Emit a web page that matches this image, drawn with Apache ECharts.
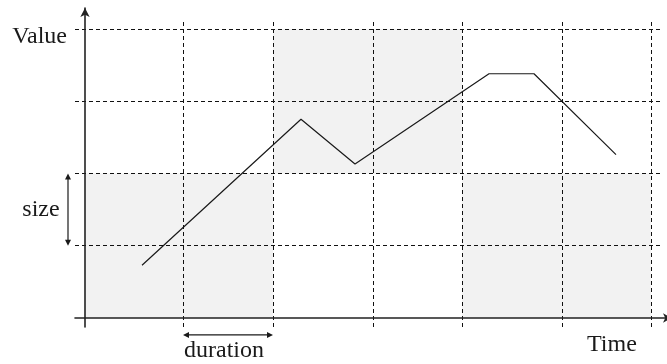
<!DOCTYPE html>
<html>
<head>
<meta charset="utf-8">
<script src="https://cdn.jsdelivr.net/npm/echarts@6/dist/echarts.min.js"></script>
<style>
html, body { margin: 0; padding: 0; background: #fff; }
#chart { width: 667px; height: 364px; }
</style>
</head>
<body>
<div id="chart"></div>
<script>
// time grid (1 unit = one small step of the axis)
var timeTicks = [9.8, 18.8, 28.8, 37.7, 47.7, 56.6];
var valueTicks = [1, 2, 3, 4];

// the curve
var pointTime = [5.7, 21.6, 27.0, 40.4, 44.9, 53.1];
var pointValue = [0.73, 2.75, 2.13, 3.38, 3.38, 2.26];

// grey blocks: [from, to] in time and value
var blockTime = [[0, 18.8], [18.8, 37.7], [37.7, 56.6]];
var blockValue = [[0, 2], [2, 4], [0, 2]];

var xMin = -1, xMax = 58.7;
var yMin = -0.125, yMax = 4.29;
var gridTop = 4.125, gridRight = 57.6;

var font = '24px "Liberation Serif", serif';
var ink = '#1a1a1a';

var chart = echarts.init(document.getElementById('chart'), null, { renderer: 'canvas' });

var vLines = timeTicks.map(function (t) {
    return [{ coord: [t, yMin] }, { coord: [t, gridTop] }];
});
var hLines = valueTicks.map(function (v) {
    return [{ coord: [xMin, v] }, { coord: [gridRight, v] }];
});
var blocks = blockTime.map(function (bt, i) {
    return [{ coord: [bt[0], blockValue[i][0]] }, { coord: [bt[1], blockValue[i][1]] }];
});

var axisLine = {
    onZero: true,
    symbol: ['none', 'arrow'],
    symbolSize: [7, 9],
    lineStyle: { color: '#222', width: 1.6 }
};

var option = {
    animation: false,
    grid: { left: 75, right: -5, top: 8, bottom: 37, containLabel: false, outerBoundsMode: 'none' },
    xAxis: {
        type: 'value', min: xMin, max: xMax, z: 5,
        axisLine: axisLine,
        axisTick: { show: false }, axisLabel: { show: false }, splitLine: { show: false }
    },
    yAxis: {
        type: 'value', min: yMin, max: yMax, z: 5,
        axisLine: axisLine,
        axisTick: { show: false }, axisLabel: { show: false }, splitLine: { show: false }
    },
    series: [
        {
            type: 'line', data: [], z: 1, silent: true,
            markArea: {
                silent: true,
                itemStyle: { color: '#f2f2f2' },
                label: { show: false },
                data: blocks
            }
        },
        {
            type: 'line', data: [], z: 2, silent: true,
            markLine: {
                silent: true,
                symbol: ['none', 'none'],
                label: { show: false },
                lineStyle: { color: '#111', width: 1, type: [4, 3] },
                emphasis: { disabled: true },
                data: vLines.concat(hLines)
            }
        },
        {
            type: 'line', z: 3,
            showSymbol: false,
            lineStyle: { color: ink, width: 1.2 },
            data: pointTime.map(function (t, i) { return [t, pointValue[i]]; })
        }
    ]
};
chart.setOption(option);

// annotations placed from the axes
function px(t, v) { return chart.convertToPixel({ gridIndex: 0 }, [t, v]); }
var origin = px(0, 0);
var sTop = px(0, valueTicks[1]);
var sBot = px(0, valueTicks[0]);
var sx = origin[0] - 17;
var dA = px(timeTicks[0], 0);
var dB = px(timeTicks[1], 0);
var dy = origin[1] + 17;
var top4 = px(0, valueTicks[3]);

var arrowStyle = { stroke: ink, lineWidth: 1.2 };
chart.setOption({
    graphic: [
        { type: 'line', shape: { x1: sx, y1: sTop[1] + 3, x2: sx, y2: sBot[1] - 3 }, style: arrowStyle },
        { type: 'polygon', shape: { points: [[sx, sTop[1]], [sx - 3, sTop[1] + 6], [sx + 3, sTop[1] + 6]] }, style: { fill: ink } },
        { type: 'polygon', shape: { points: [[sx, sBot[1]], [sx - 3, sBot[1] - 6], [sx + 3, sBot[1] - 6]] }, style: { fill: ink } },
        { type: 'line', shape: { x1: dA[0] + 3, y1: dy, x2: dB[0] - 3, y2: dy }, style: arrowStyle },
        { type: 'polygon', shape: { points: [[dA[0], dy], [dA[0] + 6, dy - 3], [dA[0] + 6, dy + 3]] }, style: { fill: ink } },
        { type: 'polygon', shape: { points: [[dB[0], dy], [dB[0] - 6, dy - 3], [dB[0] - 6, dy + 3]] }, style: { fill: ink } },
        { type: 'text', x: origin[0] - 18, y: top4[1] + 8, style: { text: 'Value', font: font, fill: ink, textAlign: 'right', textVerticalAlign: 'middle' } },
        { type: 'text', x: sx - 27, y: (sTop[1] + sBot[1]) / 2, style: { text: 'size', font: font, fill: ink, textAlign: 'center', textVerticalAlign: 'middle' } },
        { type: 'text', x: (dA[0] + dB[0]) / 2 - 4, y: dy + 16, style: { text: 'duration', font: font, fill: ink, textAlign: 'center', textVerticalAlign: 'middle' } },
        { type: 'text', x: 587, y: origin[1] + 27, style: { text: 'Time', font: font, fill: ink, textAlign: 'left', textVerticalAlign: 'middle' } }
    ]
});
</script>
</body>
</html>
